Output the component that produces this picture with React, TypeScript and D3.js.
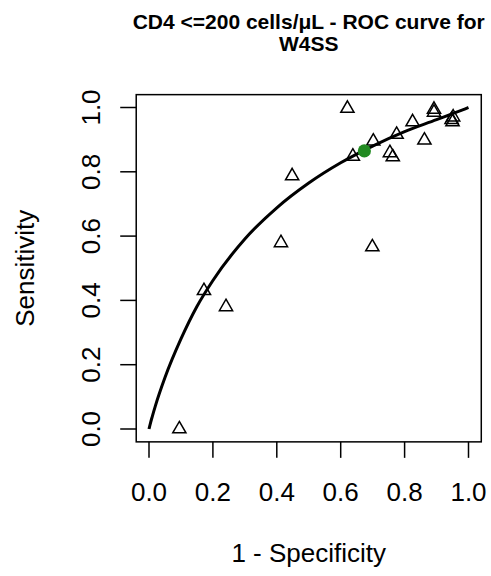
import React from "react";
import * as d3 from "d3";

const W = 491;
const H = 576;

// Study points: 1 - specificity (x) and sensitivity (y)
const studyFpr = [0.095, 0.172, 0.241, 0.413, 0.448, 0.621, 0.638, 0.702, 0.699, 0.754, 0.763, 0.775, 0.825, 0.862, 0.892, 0.892, 0.952, 0.947, 0.95];
const studySens = [0.0, 0.43, 0.38, 0.579, 0.787, 0.997, 0.848, 0.895, 0.566, 0.859, 0.846, 0.916, 0.955, 0.898, 0.994, 0.985, 0.97, 0.962, 0.955];

// Summary ROC curve
const curveFpr = [0, 0.005, 0.01, 0.02, 0.05, 0.1, 0.15, 0.2, 0.3, 0.4, 0.5, 0.6, 0.7, 0.8, 0.9, 0.95, 0.99, 1.0];
const curveSens = [0, 0.02, 0.038, 0.072, 0.16, 0.28, 0.381, 0.462, 0.591, 0.688, 0.765, 0.828, 0.88, 0.925, 0.962, 0.981, 0.996, 1.0];

// Summary operating point
const summaryFpr = [0.674];
const summarySens = [0.865];

const ticks = [0, 0.2, 0.4, 0.6, 0.8, 1.0];
const tickLabels = ["0.0", "0.2", "0.4", "0.6", "0.8", "1.0"];

const titleLines = ["CD4 <=200 cells/μL - ROC curve for", "W4SS"];
const xLabel = "1 - Specificity";
const yLabel = "Sensitivity";

const FONT = "'Liberation Sans', Arial, Helvetica, sans-serif";

export default function App() {
  const x = d3.scaleLinear().domain([0, 1]).range([149, 468.5]);
  const y = d3.scaleLinear().domain([0, 1]).range([429, 107.5]);
  const x0 = x(-0.04), x1 = x(1.04), y0 = y(-0.04), y1 = y(1.04);
  const cx = (x0 + x1) / 2;
  const cy = (y0 + y1) / 2;

  const line = d3
    .line<number>()
    .x((_, i) => x(curveFpr[i]))
    .y((_, i) => y(curveSens[i]))
    .curve(d3.curveMonotoneX);

  // R pch=2 triangle geometry
  const xc = 6.6;
  const r = (xc * 1.5551) / 1.3468;
  const yc = r / 2;
  const tri = (px: number, py: number) =>
    `M${px},${py - r}L${px + xc},${py + yc}L${px - xc},${py + yc}Z`;

  return (
    <svg
      width={W}
      height={H}
      style={{ position: "absolute", left: 0, top: 0, background: "#fff" }}
      fontFamily={FONT}
    >
      <rect x={0} y={0} width={W} height={H} fill="#fff" />
      {titleLines.map((t, i) => (
        <text key={i} x={cx} y={28.5 + i * 22.5} textAnchor="middle" fontSize={21} fontWeight="bold" fill="#000">
          {t}
        </text>
      ))}
      <rect x={x0} y={y1} width={x1 - x0} height={y0 - y1} fill="none" stroke="#000" strokeWidth={1.5} />
      {ticks.map((t, i) => (
        <g key={"x" + i}>
          <line x1={x(t)} x2={x(t)} y1={y0} y2={y0 + 16} stroke="#000" strokeWidth={1.5} />
          <text x={x(t)} y={501} textAnchor="middle" fontSize={26} fill="#000">
            {tickLabels[i]}
          </text>
        </g>
      ))}
      {ticks.map((t, i) => (
        <g key={"y" + i}>
          <line x1={x0 - 16} x2={x0} y1={y(t)} y2={y(t)} stroke="#000" strokeWidth={1.5} />
          <text transform={`translate(100,${y(t)}) rotate(-90)`} textAnchor="middle" fontSize={26} fill="#000">
            {tickLabels[i]}
          </text>
        </g>
      ))}
      <text x={cx} y={562} textAnchor="middle" fontSize={26} fill="#000">
        {xLabel}
      </text>
      <text transform={`translate(34,${cy}) rotate(-90)`} textAnchor="middle" fontSize={26} fill="#000">
        {yLabel}
      </text>
      {studyFpr.map((f, i) => (
        <path key={"p" + i} d={tri(x(f), y(studySens[i]))} fill="none" stroke="#000" strokeWidth={1.5} />
      ))}
      <path d={line(curveFpr) || ""} fill="none" stroke="#000" strokeWidth={3} />
      {summaryFpr.map((f, i) => (
        <circle key={"s" + i} cx={x(f)} cy={y(summarySens[i])} r={6.6} fill="#228B22" />
      ))}
    </svg>
  );
}
